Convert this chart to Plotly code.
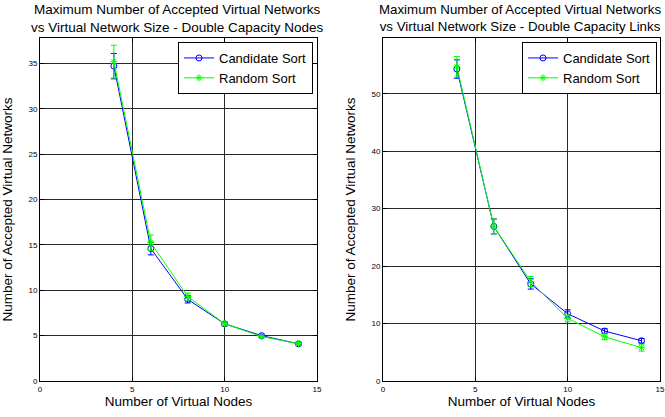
import plotly.graph_objects as go

x_nodes = [4, 6, 8, 10, 12, 14]

# Left: Double Capacity Nodes
nodes_cand = [34.7, 14.6, 9.0, 6.3, 5.0, 4.1]
nodes_cand_err = [1.4, 0.7, 0.4, 0.2, 0.15, 0.15]
nodes_rand = [35.2, 15.25, 9.3, 6.3, 4.9, 4.1]
nodes_rand_err = [1.8, 0.85, 0.4, 0.2, 0.15, 0.15]

# Right: Double Capacity Links
links_cand = [54.3, 26.9, 16.9, 11.7, 8.7, 7.0]
links_cand_err = [1.6, 1.3, 0.9, 0.7, 0.4, 0.4]
links_rand = [54.7, 26.9, 17.3, 10.9, 7.7, 5.8]
links_rand_err = [1.8, 1.3, 0.9, 0.6, 0.5, 0.6]

titles = ["Maximum Number of Accepted Virtual Networks<br>vs Virtual Network Size - Double Capacity Nodes",
          "Maximum Number of Accepted Virtual Networks<br>vs Virtual Network Size - Double Capacity Links"]

BLUE = "rgb(0,0,255)"
GREEN = "rgb(0,255,0)"
FONT = "Liberation Sans, Arial, sans-serif"

fig = go.Figure()

def add(xa, ya, y, err, name, color, symbol, legend, show):
    fig.add_trace(go.Scatter(
        x=x_nodes, y=y, name=name, mode="lines+markers",
        xaxis=xa, yaxis=ya, legend=legend, showlegend=show,
        line=dict(color=color, width=1),
        marker=dict(symbol=symbol, size=6, color=color, line=dict(color=color, width=1)),
        error_y=dict(type="data", array=err, visible=True, color=color, thickness=1, width=3),
    ))

add("x", "y", nodes_cand, nodes_cand_err, "Candidate Sort", BLUE, "circle-open", "legend", True)
add("x", "y", nodes_rand, nodes_rand_err, "Random Sort", GREEN, "asterisk-open", "legend", True)
add("x2", "y2", links_cand, links_cand_err, "Candidate Sort", BLUE, "circle-open", "legend2", True)
add("x2", "y2", links_rand, links_rand_err, "Random Sort", GREEN, "asterisk-open", "legend2", True)

W, H = 665, 417
def fx(px): return px / W
def fy(py): return (H - py) / H

axis_common = dict(
    showline=True, linecolor="black", linewidth=1, mirror="ticks",
    ticks="inside", ticklen=4, tickcolor="black",
    showgrid=True, gridcolor="rgb(40,40,40)", gridwidth=1,
    zeroline=False, tickfont=dict(size=8, color="black", family=FONT),
    automargin=False,
)

legend_common = dict(
    bgcolor="white", bordercolor="black", borderwidth=1,
    font=dict(size=13, color="black", family=FONT),
    xanchor="right", yanchor="top", tracegroupgap=0,
    itemwidth=30,
)

fig.update_layout(
    width=W, height=H,
    margin=dict(l=0, r=0, t=0, b=0, autoexpand=False),
    paper_bgcolor="white", plot_bgcolor="white",
    font=dict(family=FONT, color="black"),
    xaxis=dict(domain=[fx(40), fx(317)], range=[0, 15], tickvals=[0, 5, 10, 15], anchor="y",
               title=dict(text="Number of Virtual Nodes", font=dict(size=13.5), standoff=2), **axis_common),
    yaxis=dict(domain=[fy(381), fy(38)], range=[0, 37.8], tickvals=[0, 5, 10, 15, 20, 25, 30, 35], anchor="x",
               title=dict(text="Number of Accepted Virtual Networks", font=dict(size=13.5), standoff=12), **axis_common),
    xaxis2=dict(domain=[fx(383), fx(660)], range=[0, 15], tickvals=[0, 5, 10, 15], anchor="y2",
                title=dict(text="Number of Virtual Nodes", font=dict(size=13.5), standoff=2), **axis_common),
    yaxis2=dict(domain=[fy(381), fy(38)], range=[0, 59.7], tickvals=[0, 10, 20, 30, 40, 50], anchor="x2",
                title=dict(text="Number of Accepted Virtual Networks", font=dict(size=13.5), standoff=12), **axis_common),
    legend=dict(x=fx(313), y=fy(42), **legend_common),
    legend2=dict(x=fx(657), y=fy(42), **legend_common),
    annotations=[
        dict(text=titles[0], x=fx(177), y=1.0, xref="paper", yref="paper", xanchor="center", yanchor="top",
             showarrow=False, font=dict(size=13.5, color="black", family=FONT)),
        dict(text=titles[1], x=fx(520), y=1.0, xref="paper", yref="paper", xanchor="center", yanchor="top",
             showarrow=False, font=dict(size=13.3, color="black", family=FONT)),
    ],
)

fig.write_html("out.html", config={"displayModeBar": False},
               post_script="document.body.style.margin='0';")
